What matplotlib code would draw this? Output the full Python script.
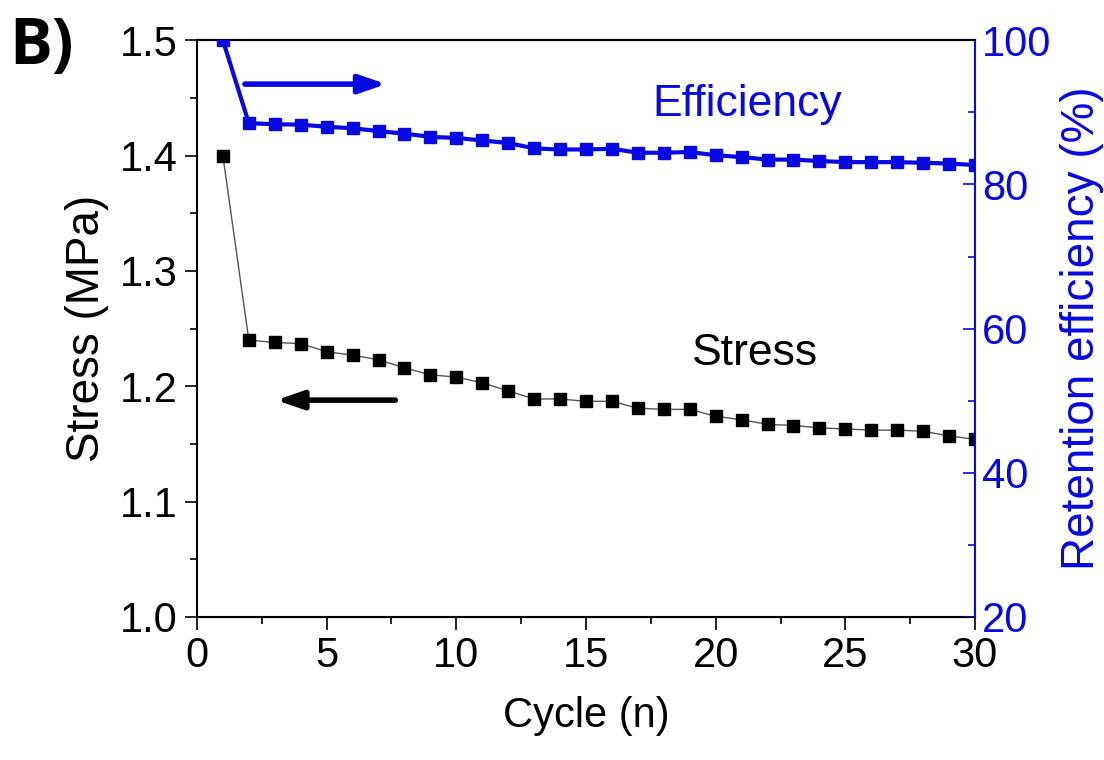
import matplotlib
matplotlib.use("Agg")
import matplotlib.pyplot as plt
from matplotlib.ticker import MultipleLocator

plt.rcParams['font.family'] = ['Liberation Sans', 'DejaVu Sans']

cycles = list(range(1, 31))
stress = [1.400, 1.240, 1.238, 1.237, 1.230, 1.227, 1.223, 1.216, 1.210, 1.208,
          1.203, 1.196, 1.189, 1.189, 1.187, 1.187, 1.181, 1.180, 1.180, 1.174,
          1.171, 1.167, 1.166, 1.164, 1.163, 1.162, 1.162, 1.161, 1.157, 1.154]
efficiency = [100.0, 88.5, 88.35, 88.3, 88.0, 87.8, 87.4, 87.05, 86.6, 86.45,
              86.1, 85.75, 85.0, 84.85, 84.85, 84.95, 84.4, 84.4, 84.5, 84.05,
              83.8, 83.45, 83.45, 83.25, 83.1, 83.1, 83.1, 83.0, 82.9, 82.7]

blue = '#0808e0'
fig = plt.figure(figsize=(11.04, 7.6), dpi=100)
ax = fig.add_axes([0.1784, 0.1882, 0.7048, 0.7588])
ax2 = ax.twinx()

ax.plot(cycles, stress, color='#555555', lw=1.0, marker='s', ms=8.5,
        mfc='black', mec='black', zorder=3)
ax2.plot(cycles, efficiency, color=blue, lw=3.0, marker='s', ms=8.5,
         mfc=blue, mec=blue, zorder=3)

ax.set_xlim(0, 30)
ax.set_ylim(1.0, 1.5)
ax2.set_ylim(20, 100)

ax.xaxis.set_major_locator(MultipleLocator(5))
ax.xaxis.set_minor_locator(MultipleLocator(2.5))
ax.yaxis.set_major_locator(MultipleLocator(0.1))
ax.yaxis.set_minor_locator(MultipleLocator(0.05))
ax2.yaxis.set_major_locator(MultipleLocator(20))
ax2.yaxis.set_minor_locator(MultipleLocator(10))

ax.tick_params(axis='both', which='major', direction='out', length=9, width=1.2,
               labelsize=30, pad=5)
ax.tick_params(axis='both', which='minor', direction='out', length=5, width=1.2)
ax.tick_params(axis='y', right=False)
ax2.tick_params(axis='y', which='major', direction='in', length=9, width=1.2,
                colors=blue, labelsize=30, pad=5)
ax2.tick_params(axis='y', which='minor', direction='in', length=5, width=1.2,
                colors=blue)
ax.set_yticklabels([f'{v:.1f}' for v in ax.get_yticks()])

for s in ['left', 'bottom', 'top']:
    ax.spines[s].set_linewidth(1.5)
ax2.spines['right'].set_color(blue)
ax2.spines['right'].set_linewidth(1.5)
ax2.spines['left'].set_visible(False)
ax.spines['right'].set_visible(False)
ax2.spines['top'].set_linewidth(1.5)

ax.set_xlabel('Cycle (n)', fontsize=30, labelpad=14)
ax.set_ylabel('Stress (MPa)', fontsize=33, labelpad=8)
ax2.set_ylabel('Retention efficiency (%)', fontsize=33, color=blue, labelpad=6)

ax.annotate('', xy=(7.3, 1.462), xytext=(1.85, 1.462),
            arrowprops=dict(arrowstyle='-|>,head_length=1.6,head_width=0.55',
                            color=blue, lw=4, shrinkA=0, shrinkB=0))
ax.annotate('', xy=(3.05, 1.188), xytext=(7.65, 1.188),
            arrowprops=dict(arrowstyle='-|>,head_length=1.6,head_width=0.55',
                            color='black', lw=4, shrinkA=0, shrinkB=0))

ax.text(21.2, 1.444, 'Efficiency', fontsize=32, color=blue, ha='center', va='center')
ax.text(21.5, 1.228, 'Stress', fontsize=32, color='black', ha='center', va='center')

fig.text(0.008, 0.938, 'B)', fontsize=46, fontweight='bold', ha='left', va='center',
         family=['Open Sans', 'DejaVu Sans'])

fig.savefig('out.png', dpi=100, facecolor='white')
